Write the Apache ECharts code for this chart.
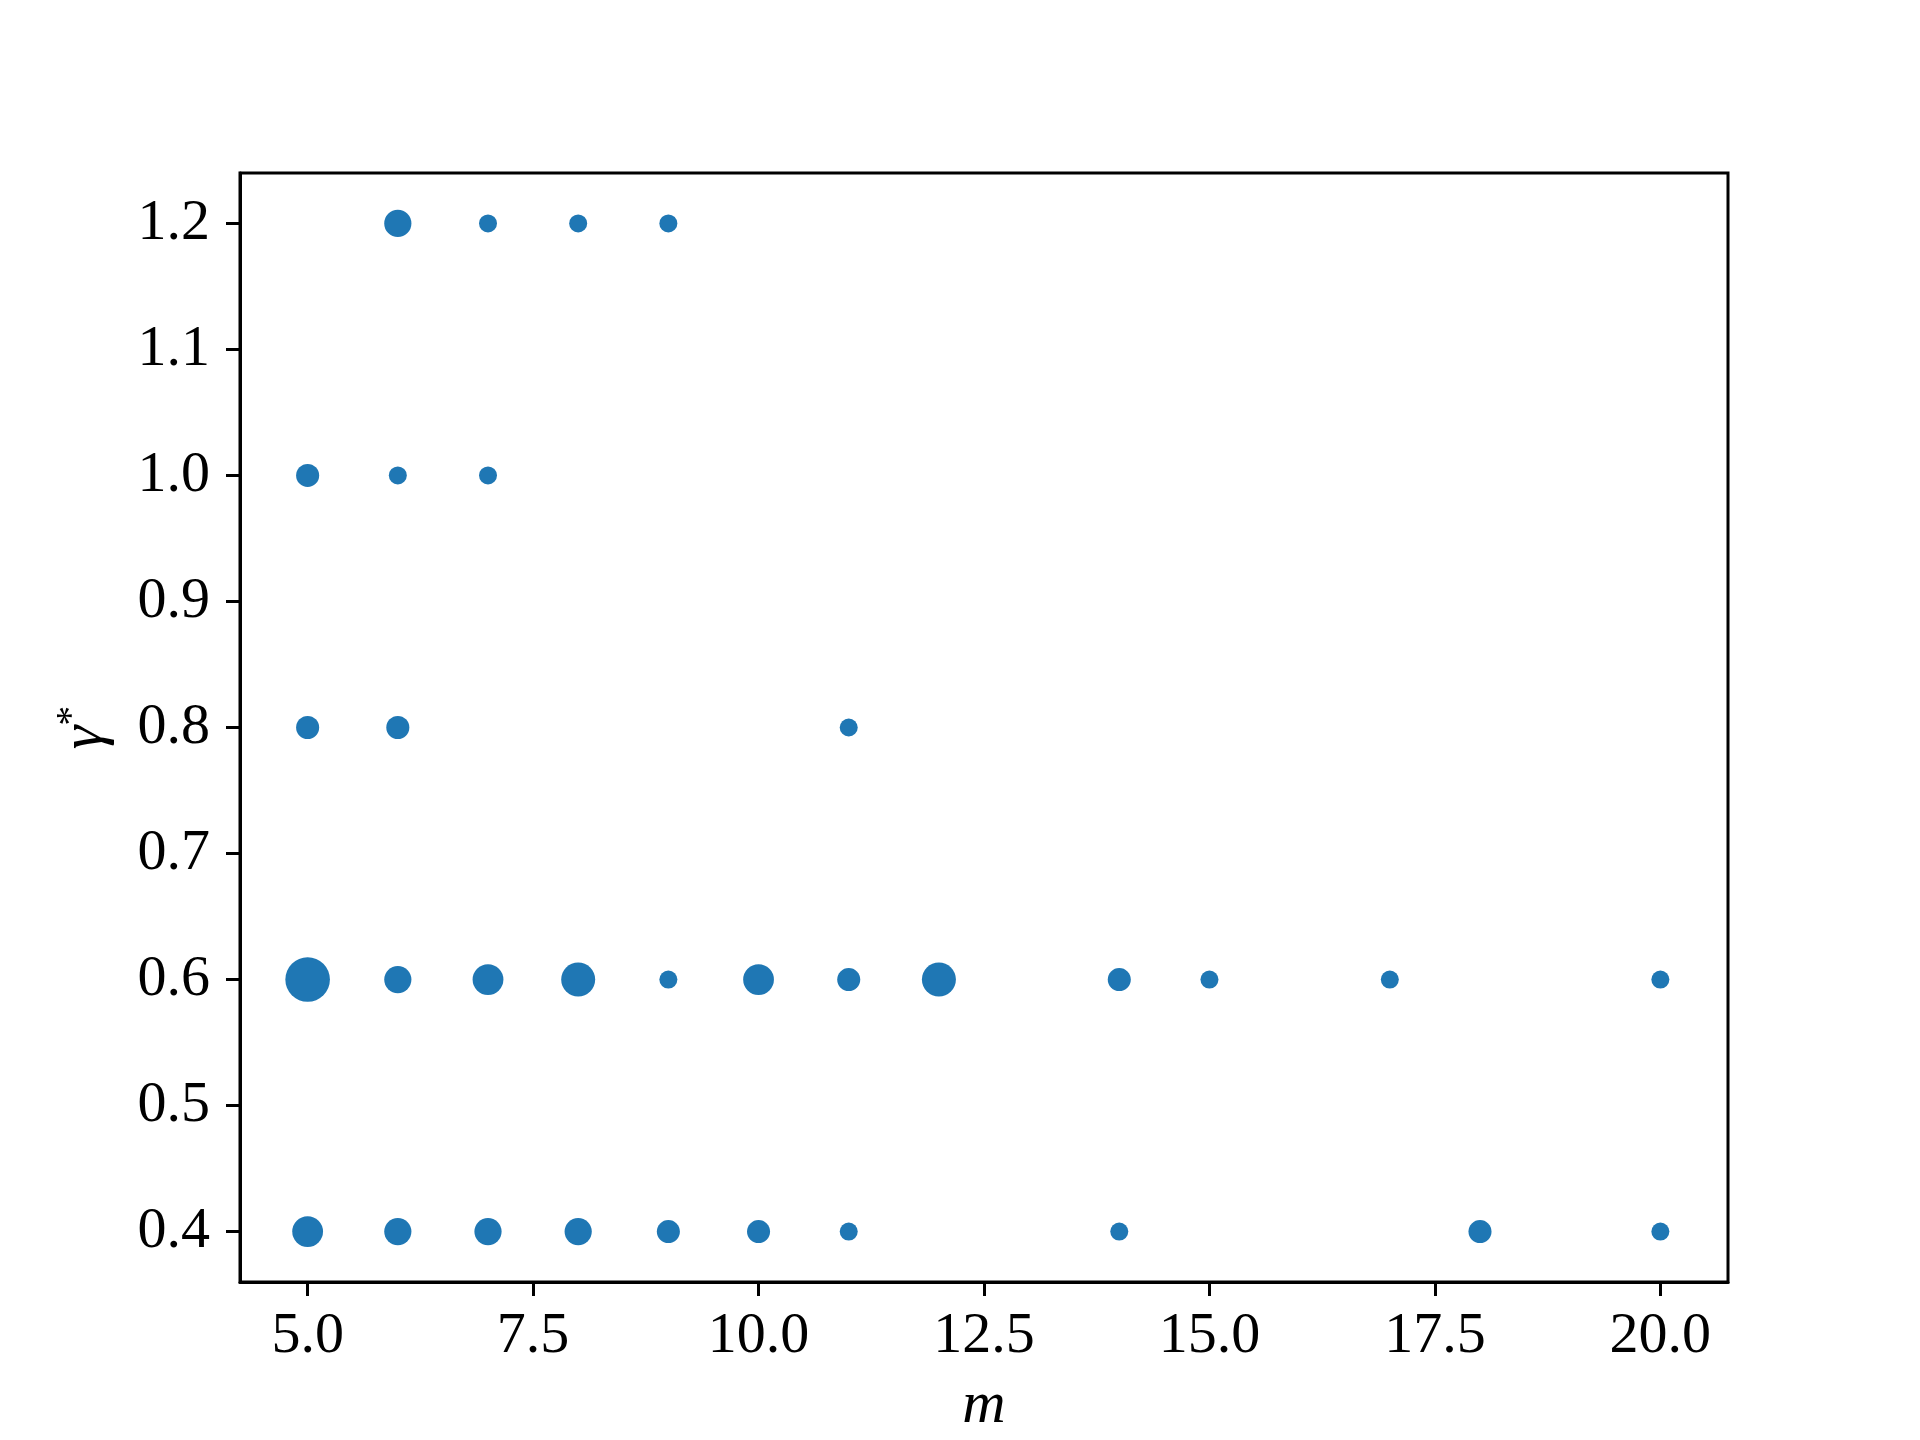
<!DOCTYPE html>
<html>
<head>
<meta charset="utf-8">
<script src="https://cdn.jsdelivr.net/npm/echarts@6/dist/echarts.min.js"></script>
<style>
  html, body { margin: 0; padding: 0; background: #ffffff; }
  #chart { width: 1920px; height: 1440px; }
</style>
</head>
<body>
<div id="chart"></div>
<script>
// one entry per marker: m, gamma*, and how many runs landed there
const mValues = [
  6, 7, 8, 9,
  5, 6, 7,
  5, 6, 11,
  5, 6, 7, 8, 9, 10, 11, 12, 14, 15, 17, 20,
  5, 6, 7, 8, 9, 10, 11, 14, 18, 20,
];
const gammaValues = [
  1.2, 1.2, 1.2, 1.2,
  1.0, 1.0, 1.0,
  0.8, 0.8, 0.8,
  0.6, 0.6, 0.6, 0.6, 0.6, 0.6, 0.6, 0.6, 0.6, 0.6, 0.6, 0.6,
  0.4, 0.4, 0.4, 0.4, 0.4, 0.4, 0.4, 0.4, 0.4, 0.4,
];
const counts = [
  3, 1, 1, 1,
  2, 1, 1,
  2, 2, 1,
  9, 3, 4, 5, 1, 4, 2, 5, 2, 1, 1, 1,
  4, 3, 3, 3, 2, 2, 1, 1, 2, 1,
];

const xTicks = [5, 7.5, 10, 12.5, 15, 17.5, 20];
const yTicks = [0.4, 0.5, 0.6, 0.7, 0.8, 0.9, 1.0, 1.1, 1.2];

const BLUE = "#1f77b4";
const FONT = "'Liberation Serif', 'DejaVu Serif', serif";

// marker area grows linearly with the count
function markerSize(value) {
  return Math.sqrt(116 + 208 * value[2]);
}

const points = mValues.map((m, i) => [m, gammaValues[i], counts[i]]);

const chart = echarts.init(document.getElementById("chart"), null, { renderer: "canvas" });

const axisCommon = {
  axisLine: { show: true, lineStyle: { color: "#000", width: 3 } },
  axisTick: { show: true, inside: false, length: 14, lineStyle: { color: "#000", width: 3 } },
  splitLine: { show: false },
};

chart.setOption({
  backgroundColor: "#ffffff",
  animation: false,
  grid: {
    left: 240,
    right: 192,
    top: 173,
    bottom: 158,
    show: true,
    borderColor: "#000",
    borderWidth: 3,
    containLabel: false,
    outerBoundsMode: "none",
  },
  xAxis: {
    type: "value",
    min: 4.25,
    max: 20.75,
    ...axisCommon,
    axisTick: { ...axisCommon.axisTick, customValues: xTicks },
    axisLabel: {
      customValues: xTicks,
      margin: 26,
      color: "#000",
      fontFamily: FONT,
      fontSize: 58,
      formatter: (v) => v.toFixed(1),
    },
    name: "m",
    nameLocation: "middle",
    nameGap: 94,
    nameTextStyle: { color: "#000", fontFamily: FONT, fontStyle: "italic", fontSize: 60 },
  },
  yAxis: {
    type: "value",
    min: 0.36,
    max: 1.24,
    ...axisCommon,
    axisTick: { ...axisCommon.axisTick, customValues: yTicks },
    axisLabel: {
      customValues: yTicks,
      margin: 30,
      color: "#000",
      fontFamily: FONT,
      fontSize: 58,
      formatter: (v) => v.toFixed(1),
    },
    name: "{g|γ}{s|*}",
    nameLocation: "middle",
    nameRotate: 90,
    nameGap: 122,
    nameTextStyle: {
      rich: {
        g: { color: "#000", fontFamily: FONT, fontStyle: "italic", fontSize: 60 },
        s: { color: "#000", fontFamily: FONT, fontSize: 40, padding: [0, 0, 26, 0] },
      },
    },
  },
  series: [
    {
      type: "scatter",
      data: points,
      symbol: "circle",
      symbolSize: markerSize,
      itemStyle: { color: BLUE, opacity: 1 },
    },
  ],
});
</script>
</body>
</html>
